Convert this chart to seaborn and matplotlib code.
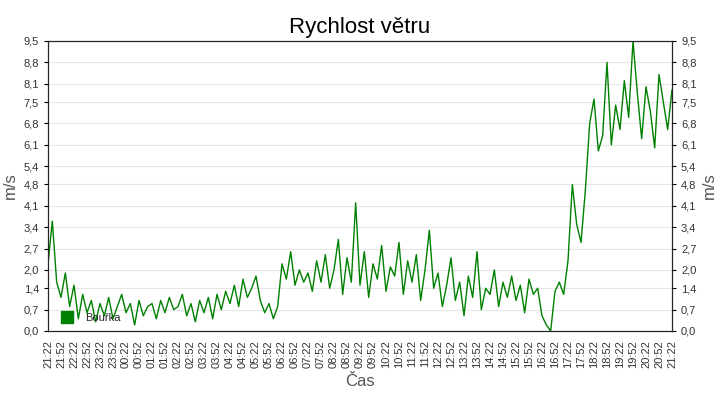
import matplotlib
matplotlib.use("Agg")
import matplotlib.pyplot as plt
from matplotlib.lines import Line2D
import seaborn as sns
import numpy as np
import pandas as pd

# wind speed in m/s, one reading every 10 minutes from 21:22 to 21:22 next day
speed = [
    2.2, 3.6, 1.6, 1.1, 1.9, 0.8,
    1.5, 0.4, 1.2, 0.6, 1.0, 0.3,
    0.9, 0.5, 1.1, 0.4, 0.8, 1.2,
    0.6, 0.9, 0.2, 1.0, 0.5, 0.8,
    0.9, 0.4, 1.0, 0.6, 1.1, 0.7,
    0.8, 1.2, 0.5, 0.9, 0.3, 1.0,
    0.6, 1.1, 0.4, 1.2, 0.7, 1.3,
    0.9, 1.5, 0.8, 1.7, 1.1, 1.4,
    1.8, 1.0, 0.6, 0.9, 0.4, 0.8,
    2.2, 1.7, 2.6, 1.5, 2.0, 1.6,
    1.9, 1.3, 2.3, 1.6, 2.5, 1.4,
    2.0, 3.0, 1.2, 2.4, 1.6, 4.2,
    1.5, 2.6, 1.1, 2.2, 1.7, 2.8,
    1.3, 2.1, 1.8, 2.9, 1.2, 2.3,
    1.6, 2.5, 1.0, 2.0, 3.3, 1.4,
    1.9, 0.8, 1.5, 2.4, 1.0, 1.6,
    0.5, 1.8, 1.1, 2.6, 0.7, 1.4,
    1.2, 2.0, 0.8, 1.6, 1.1, 1.8,
    1.0, 1.5, 0.6, 1.7, 1.2, 1.4,
    0.5, 0.2, 0.0, 1.3, 1.6, 1.2,
    2.3, 4.8, 3.5, 2.9, 4.6, 6.8,
    7.6, 5.9, 6.4, 8.8, 6.1, 7.4,
    6.6, 8.2, 7.0, 9.5, 7.8, 6.3,
    8.0, 7.2, 6.0, 8.4, 7.5, 6.6, 7.9,
]
tick_labels = ["21:22"] + [f"{(21 + (52 + 30 * i) // 60) % 24:02d}:{(52 + 30 * i) % 60:02d}" for i in range(48)]
y_ticks = [0.0, 0.7, 1.4, 2.0, 2.7, 3.4, 4.1, 4.8, 5.4, 6.1, 6.8, 7.5, 8.1, 8.8, 9.5]
y_labels = [f"{v:.1f}".replace(".", ",") for v in y_ticks]

df = pd.DataFrame({"minute": np.arange(len(speed)) * 10, "speed": speed})

sns.set_style("white")
plt.rcParams["font.family"] = ["Liberation Sans", "DejaVu Sans"]
fig = plt.figure(figsize=(7.2, 4.0), dpi=100)
ax = fig.add_axes([48 / 720, 69 / 400, 624 / 720, 290 / 400])

sns.lineplot(data=df, x="minute", y="speed", ax=ax, color="#008000", lw=1, legend=False)

ax.set_xlim(0, 1440)
ax.set_ylim(0, 9.5)
ax.set_xticks(np.arange(0, 1441, 30))
ax.set_xticklabels(tick_labels, rotation=90, fontsize=8, color="#333333")
ax.set_yticks(y_ticks)
ax.set_yticklabels(y_labels, fontsize=8, color="#333333")
ax.yaxis.grid(True, color="#e6e6e6", lw=0.8)
for s in ax.spines.values():
    s.set_color("black")
ax.tick_params(length=3, color="black", direction="out")

ax2 = ax.twinx()
ax2.set_ylim(0, 9.5)
ax2.set_yticks(y_ticks)
ax2.set_yticklabels(y_labels, fontsize=8, color="#333333")
ax2.set_ylabel("m/s", fontsize=12, color="#555555")
ax2.tick_params(length=3, color="black")

ax.set_ylabel("m/s", fontsize=12, color="#555555")
ax.set_xlabel("Čas", fontsize=12, color="#555555")
ax.set_title("Rychlost větru", fontsize=16, color="black")

handle = Line2D([], [], marker="s", ls="none", color="#008000", markersize=9)
ax.legend([handle], ["Bouřka"], loc="lower left", frameon=False, fontsize=8,
          handletextpad=0.6, borderaxespad=0.3)

fig.savefig("out.png", dpi=100)
